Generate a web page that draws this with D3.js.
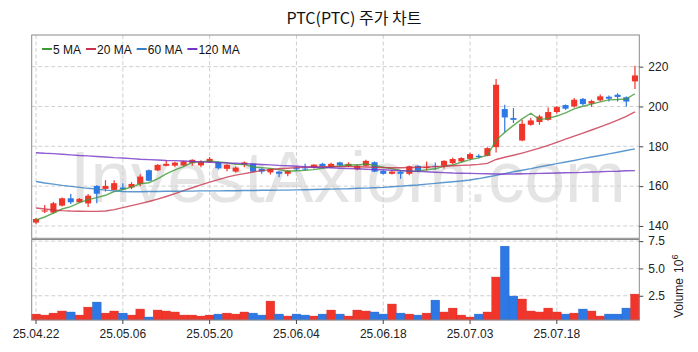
<!DOCTYPE html>
<html>
<head>
<meta charset="utf-8">
<script src="https://cdn.jsdelivr.net/npm/d3@7"></script>
<style>
  body { margin: 0; background: #fff; }
  svg { display: block; }
</style>
</head>
<body>
<svg id="chart" width="698" height="352"></svg>
<script>
// trading days 2025-04-22 .. 2025-07-31
const dates = [
  "25.04.22","25.04.23","25.04.24","25.04.25","25.04.28","25.04.29","25.04.30",
  "25.05.01","25.05.02","25.05.05","25.05.06","25.05.07","25.05.08","25.05.09",
  "25.05.12","25.05.13","25.05.14","25.05.15","25.05.16","25.05.19","25.05.20",
  "25.05.21","25.05.22","25.05.23","25.05.27","25.05.28","25.05.29","25.05.30",
  "25.06.02","25.06.03","25.06.04","25.06.05","25.06.06","25.06.09","25.06.10",
  "25.06.11","25.06.12","25.06.13","25.06.16","25.06.17","25.06.18","25.06.20",
  "25.06.23","25.06.24","25.06.25","25.06.26","25.06.27","25.06.30","25.07.01",
  "25.07.02","25.07.03","25.07.07","25.07.08","25.07.09","25.07.10","25.07.11",
  "25.07.14","25.07.15","25.07.16","25.07.17","25.07.18","25.07.21","25.07.22",
  "25.07.23","25.07.24","25.07.25","25.07.28","25.07.29","25.07.30","25.07.31"
];
const tickDates = ["25.04.22","25.05.06","25.05.20","25.06.04","25.06.18","25.07.03","25.07.18"];

const open = [
  141.7,147.2,146.7,150.2,153.9,151.9,151.3,160.1,158.6,158.1,
  159.3,159.3,161.1,168.0,167.9,170.2,170.3,170.4,171.5,170.4,
  172.0,172.0,168.7,167.3,170.7,171.2,168.7,166.9,167.3,166.2,
  169.0,168.8,169.1,171.2,169.5,171.9,169.9,168.5,170.2,172.0,
  167.7,166.2,167.3,166.2,170.2,169.1,170.2,170.2,171.6,172.4,
  173.7,175.2,175.2,179.6,198.7,194.2,182.9,190.8,192.2,193.3,
  197.2,200.7,200.0,203.8,201.4,203.1,204.9,205.9,204.6,212.6
];
const high = [
  144.0,150.5,152.0,154.3,156.0,154.0,156.0,160.5,163.0,163.0,
  161.5,162.0,166.0,168.3,171.0,173.0,172.3,172.8,173.5,173.0,
  174.6,172.5,171.0,169.8,172.4,171.5,169.0,169.0,167.5,168.0,
  169.5,171.2,171.0,171.7,171.8,172.3,172.0,171.0,173.2,172.4,
  168.0,167.8,167.5,170.3,170.5,172.4,171.9,173.0,174.2,174.5,
  176.8,176.0,179.5,213.8,200.9,199.2,193.3,194.3,195.8,199.5,
  200.2,201.0,204.3,204.2,203.4,206.0,205.5,206.6,205.0,220.5
];
const low = [
  141.0,146.5,146.0,149.8,151.0,151.5,149.5,151.4,157.3,157.8,
  158.0,158.5,160.0,162.5,167.5,170.0,169.5,170.0,170.2,169.5,
  171.8,168.5,167.5,166.8,169.5,167.0,166.2,165.8,164.5,165.0,
  167.8,167.9,168.8,169.5,169.0,170.0,169.5,168.0,169.8,167.0,
  165.8,165.8,163.7,165.5,167.0,167.9,168.2,168.9,171.0,172.0,
  173.2,174.0,175.0,176.9,187.0,191.7,182.5,190.3,190.8,192.8,
  196.5,198.3,199.5,200.5,199.8,202.5,202.5,202.5,200.0,208.8
];
const close = [
  143.5,147.8,151.4,153.9,151.9,153.6,155.2,156.2,160.1,161.5,
  158.5,161.1,164.8,162.7,170.7,171.2,171.8,172.4,173.2,172.4,
  173.7,169.0,170.7,169.3,171.9,167.3,167.3,168.7,166.2,167.8,
  168.5,168.3,170.8,169.9,171.2,170.4,171.2,170.2,172.7,167.3,
  166.2,167.3,166.2,170.0,167.7,169.6,169.9,172.7,173.6,174.1,
  176.1,174.6,179.1,210.9,194.5,193.3,191.3,193.0,195.0,197.2,
  199.7,198.9,203.4,201.2,202.7,205.1,203.9,204.8,202.5,215.6
];
// volume, millions of shares
const volume = [
  0.82,0.73,0.91,1.10,1.01,0.73,1.46,1.92,0.91,1.10,
  0.91,0.73,1.28,0.55,1.19,1.10,1.01,0.73,0.73,0.64,
  0.73,0.82,0.91,0.82,1.01,0.91,0.73,2.01,0.82,0.64,
  0.82,0.73,0.64,0.82,1.19,0.82,0.64,1.19,1.10,1.01,
  0.82,1.74,0.91,0.82,0.73,0.91,2.10,1.01,1.37,0.73,
  0.55,0.82,1.01,4.21,7.04,2.47,2.20,1.10,1.01,1.37,
  1.01,0.82,0.91,1.28,1.10,0.64,0.82,0.82,1.37,2.65
];

const ma5 = [
  143.0,144.5,146.5,148.5,149.7,151.7,153.2,154.2,155.4,157.3,
  158.3,159.5,161.2,161.7,163.6,166.1,168.2,169.8,171.9,172.2,
  172.7,172.1,171.8,171.0,170.9,169.6,169.3,168.9,168.3,167.5,
  167.7,167.9,168.3,169.0,169.7,170.1,170.7,170.6,171.1,170.4,
  169.5,168.7,167.9,167.4,167.5,168.2,168.7,170.0,170.7,172.0,
  173.3,174.2,175.5,183.0,187.0,190.5,193.8,196.6,193.4,194.0,
  195.2,196.8,198.8,200.1,201.2,202.3,203.3,203.5,203.8,206.4
];
const ma20 = [
  149.0,148.5,148.0,147.7,147.5,147.4,147.3,147.3,147.5,148.2,
  149.2,150.2,151.2,152.3,153.5,154.8,156.2,157.7,159.2,160.6,
  162.0,163.3,164.5,165.5,166.3,167.1,167.8,168.3,168.7,169.0,
  169.3,169.5,169.6,169.7,169.8,169.8,169.8,169.7,169.6,169.5,
  169.3,169.2,169.2,169.3,169.5,169.6,169.8,170.0,170.2,170.4,
  170.6,170.9,171.4,173.4,174.5,175.5,176.6,177.8,179.1,180.5,
  182.0,183.6,185.1,186.6,188.2,189.8,191.4,193.1,195.0,197.3
];
const ma60 = [
  162.3,161.6,161.0,160.4,159.9,159.4,158.9,158.5,158.0,157.6,
  157.3,157.2,157.2,157.3,157.3,157.4,157.4,157.5,157.5,157.6,
  157.6,157.6,157.7,157.7,157.8,157.8,157.9,157.9,158.0,158.0,
  158.1,158.2,158.3,158.4,158.5,158.6,158.7,158.9,159.0,159.2,
  159.4,159.7,160.0,160.3,160.6,161.0,161.4,161.8,162.2,162.6,
  163.1,163.8,164.6,165.4,166.3,167.2,168.0,168.8,169.7,170.5,
  171.3,172.1,172.9,173.8,174.6,175.4,176.2,177.0,177.9,178.7
];
const ma120 = [
  176.8,176.5,176.3,176.0,175.7,175.4,175.2,174.9,174.6,174.3,
  174.1,173.8,173.5,173.3,173.1,172.9,172.8,172.6,172.4,172.2,
  172.0,171.8,171.6,171.5,171.3,171.1,170.9,170.7,170.4,170.2,
  170.0,169.7,169.5,169.3,169.2,169.0,168.8,168.7,168.5,168.3,
  168.2,168.0,167.8,167.6,167.4,167.2,167.0,166.8,166.6,166.5,
  166.4,166.3,166.2,166.1,166.1,166.1,166.2,166.3,166.4,166.5,
  166.6,166.7,166.8,166.9,167.1,167.2,167.4,167.5,167.7,167.8
];

const priceTicks = [140, 160, 180, 200, 220];
const volTicks = [2.5, 5.0, 7.5];

const maSeries = [
  { label: "5 MA", values: ma5, color: "#3f9a35" },
  { label: "20 MA", values: ma20, color: "#c8324a" },
  { label: "60 MA", values: ma60, color: "#3480c4" },
  { label: "120 MA", values: ma120, color: "#7434c6" },
];

const UP = "#f2352b";
const DOWN = "#2d78e4";
const FONT = "'Liberation Sans', Arial, sans-serif";

const left = 31.7, right = 639.3;
const priceTop = 35, priceBottom = 238.3;
const volTop = 239.5, volBottom = 320;

const svg = d3.select("#chart");

const x = d3.scaleBand().domain(dates).range([left, right]).padding(0);
const bw = x.bandwidth();
const cx = (d) => x(d) + bw / 2;

const y = d3.scaleLinear().domain([133.8, 235.9]).range([priceBottom, priceTop]);
const yv = d3.scaleLinear().domain([0.28, 7.65]).range([volBottom, volTop]);

// title
svg.append("text")
  .attr("x", 354).attr("y", 24)
  .attr("text-anchor", "middle")
  .attr("font-family", "'Noto Sans CJK KR', sans-serif")
  .attr("font-size", 16)
  .attr("textLength", 135)
  .attr("lengthAdjust", "spacingAndGlyphs")
  .attr("fill", "#111")
  .text("PTC(PTC) 주가 차트");

// watermark
svg.append("text")
  .attr("x", 348).attr("y", 202)
  .attr("text-anchor", "middle")
  .attr("font-family", FONT)
  .attr("font-size", 73)
  .attr("fill", "#e4e4e4")
  .text("InvestAxiom.com");

// grid
const grid = svg.append("g")
  .attr("stroke", "#cfcfcf")
  .attr("stroke-width", 1)
  .attr("stroke-dasharray", "4,2.5");

grid.selectAll("line.vx")
  .data(tickDates)
  .enter()
  .append("line")
  .attr("x1", cx).attr("x2", cx)
  .attr("y1", priceTop).attr("y2", volBottom);

grid.selectAll("line.hp")
  .data(priceTicks)
  .enter()
  .append("line")
  .attr("x1", left).attr("x2", right)
  .attr("y1", (d) => y(d)).attr("y2", (d) => y(d));

grid.selectAll("line.hv")
  .data(volTicks)
  .enter()
  .append("line")
  .attr("x1", left).attr("x2", right)
  .attr("y1", (d) => yv(d)).attr("y2", (d) => yv(d));

// volume bars
const isUp = (i) => close[i] >= open[i];

svg.append("g")
  .selectAll("rect")
  .data(volume)
  .enter()
  .append("rect")
  .attr("x", (d, i) => x(dates[i]))
  .attr("y", (d) => yv(d))
  .attr("width", bw)
  .attr("height", (d) => volBottom - yv(d))
  .attr("fill", (d, i) => (isUp(i) ? UP : DOWN))
  .attr("stroke", (d, i) => (isUp(i) ? "#d42a20" : "#2163c4"))
  .attr("stroke-width", 0.4);

// candles
const candles = svg.append("g");
const bodyW = bw * 0.7;

candles.selectAll("line")
  .data(dates)
  .enter()
  .append("line")
  .attr("x1", cx).attr("x2", cx)
  .attr("y1", (d, i) => y(high[i]))
  .attr("y2", (d, i) => y(low[i]))
  .attr("stroke", (d, i) => (isUp(i) ? UP : DOWN))
  .attr("stroke-width", 1.2);

candles.selectAll("rect")
  .data(dates)
  .enter()
  .append("rect")
  .attr("x", (d) => cx(d) - bodyW / 2)
  .attr("y", (d, i) => y(Math.max(open[i], close[i])))
  .attr("width", bodyW)
  .attr("height", (d, i) => Math.max(1, Math.abs(y(open[i]) - y(close[i]))))
  .attr("fill", (d, i) => (isUp(i) ? UP : DOWN));

// moving averages
const line = d3.line()
  .x((d, i) => cx(dates[i]))
  .y((d) => y(d));

svg.append("g")
  .selectAll("path")
  .data(maSeries)
  .enter()
  .append("path")
  .attr("d", (s) => line(s.values))
  .attr("fill", "none")
  .attr("stroke", (s) => s.color)
  .attr("stroke-width", 1.4)
  .attr("stroke-opacity", 0.8);

// frames
svg.append("rect")
  .attr("x", left).attr("y", priceTop)
  .attr("width", right - left).attr("height", priceBottom - priceTop)
  .attr("fill", "none").attr("stroke", "#8a8a8a").attr("stroke-width", 1);
svg.append("rect")
  .attr("x", left).attr("y", volTop)
  .attr("width", right - left).attr("height", volBottom - volTop)
  .attr("fill", "none").attr("stroke", "#8a8a8a").attr("stroke-width", 1);

// axes
function styleAxis(g) {
  g.select(".domain").remove();
  g.selectAll(".tick line").attr("stroke", "#444");
  g.selectAll("text")
    .attr("fill", "#222")
    .attr("font-family", FONT)
    .attr("font-size", 12);
}

svg.append("g")
  .attr("transform", `translate(${right},0)`)
  .call(d3.axisRight(y).tickValues(priceTicks).tickSize(4).tickPadding(5))
  .call(styleAxis);

svg.append("g")
  .attr("transform", `translate(${right},0)`)
  .call(d3.axisRight(yv).tickValues(volTicks).tickFormat(d3.format(".1f")).tickSize(4).tickPadding(5))
  .call(styleAxis);

svg.append("g")
  .attr("transform", `translate(0,${volBottom})`)
  .call(d3.axisBottom(x).tickValues(tickDates).tickSize(4).tickPadding(5))
  .call(styleAxis);

// volume axis label
const vl = svg.append("text")
  .attr("transform", "translate(683,318) rotate(-90)")
  .attr("font-family", FONT)
  .attr("font-size", 12)
  .attr("fill", "#222");
vl.append("tspan").text("Volume");
vl.append("tspan").attr("dx", 5).text("10");
vl.append("tspan").attr("dy", -5).attr("font-size", 9).text("6");

// legend
const legend = svg.append("g").attr("transform", "translate(42,49)");
let lx = 0;
maSeries.forEach((s) => {
  legend.append("line")
    .attr("x1", lx).attr("x2", lx + 10)
    .attr("y1", 0).attr("y2", 0)
    .attr("stroke", s.color).attr("stroke-width", 2);
  const t = legend.append("text")
    .attr("x", lx + 11).attr("y", 4.5)
    .attr("font-family", FONT)
    .attr("font-size", 12)
    .attr("fill", "#111")
    .text(s.label);
  lx += 11 + t.node().getComputedTextLength() + 5;
});
</script>
</body>
</html>
